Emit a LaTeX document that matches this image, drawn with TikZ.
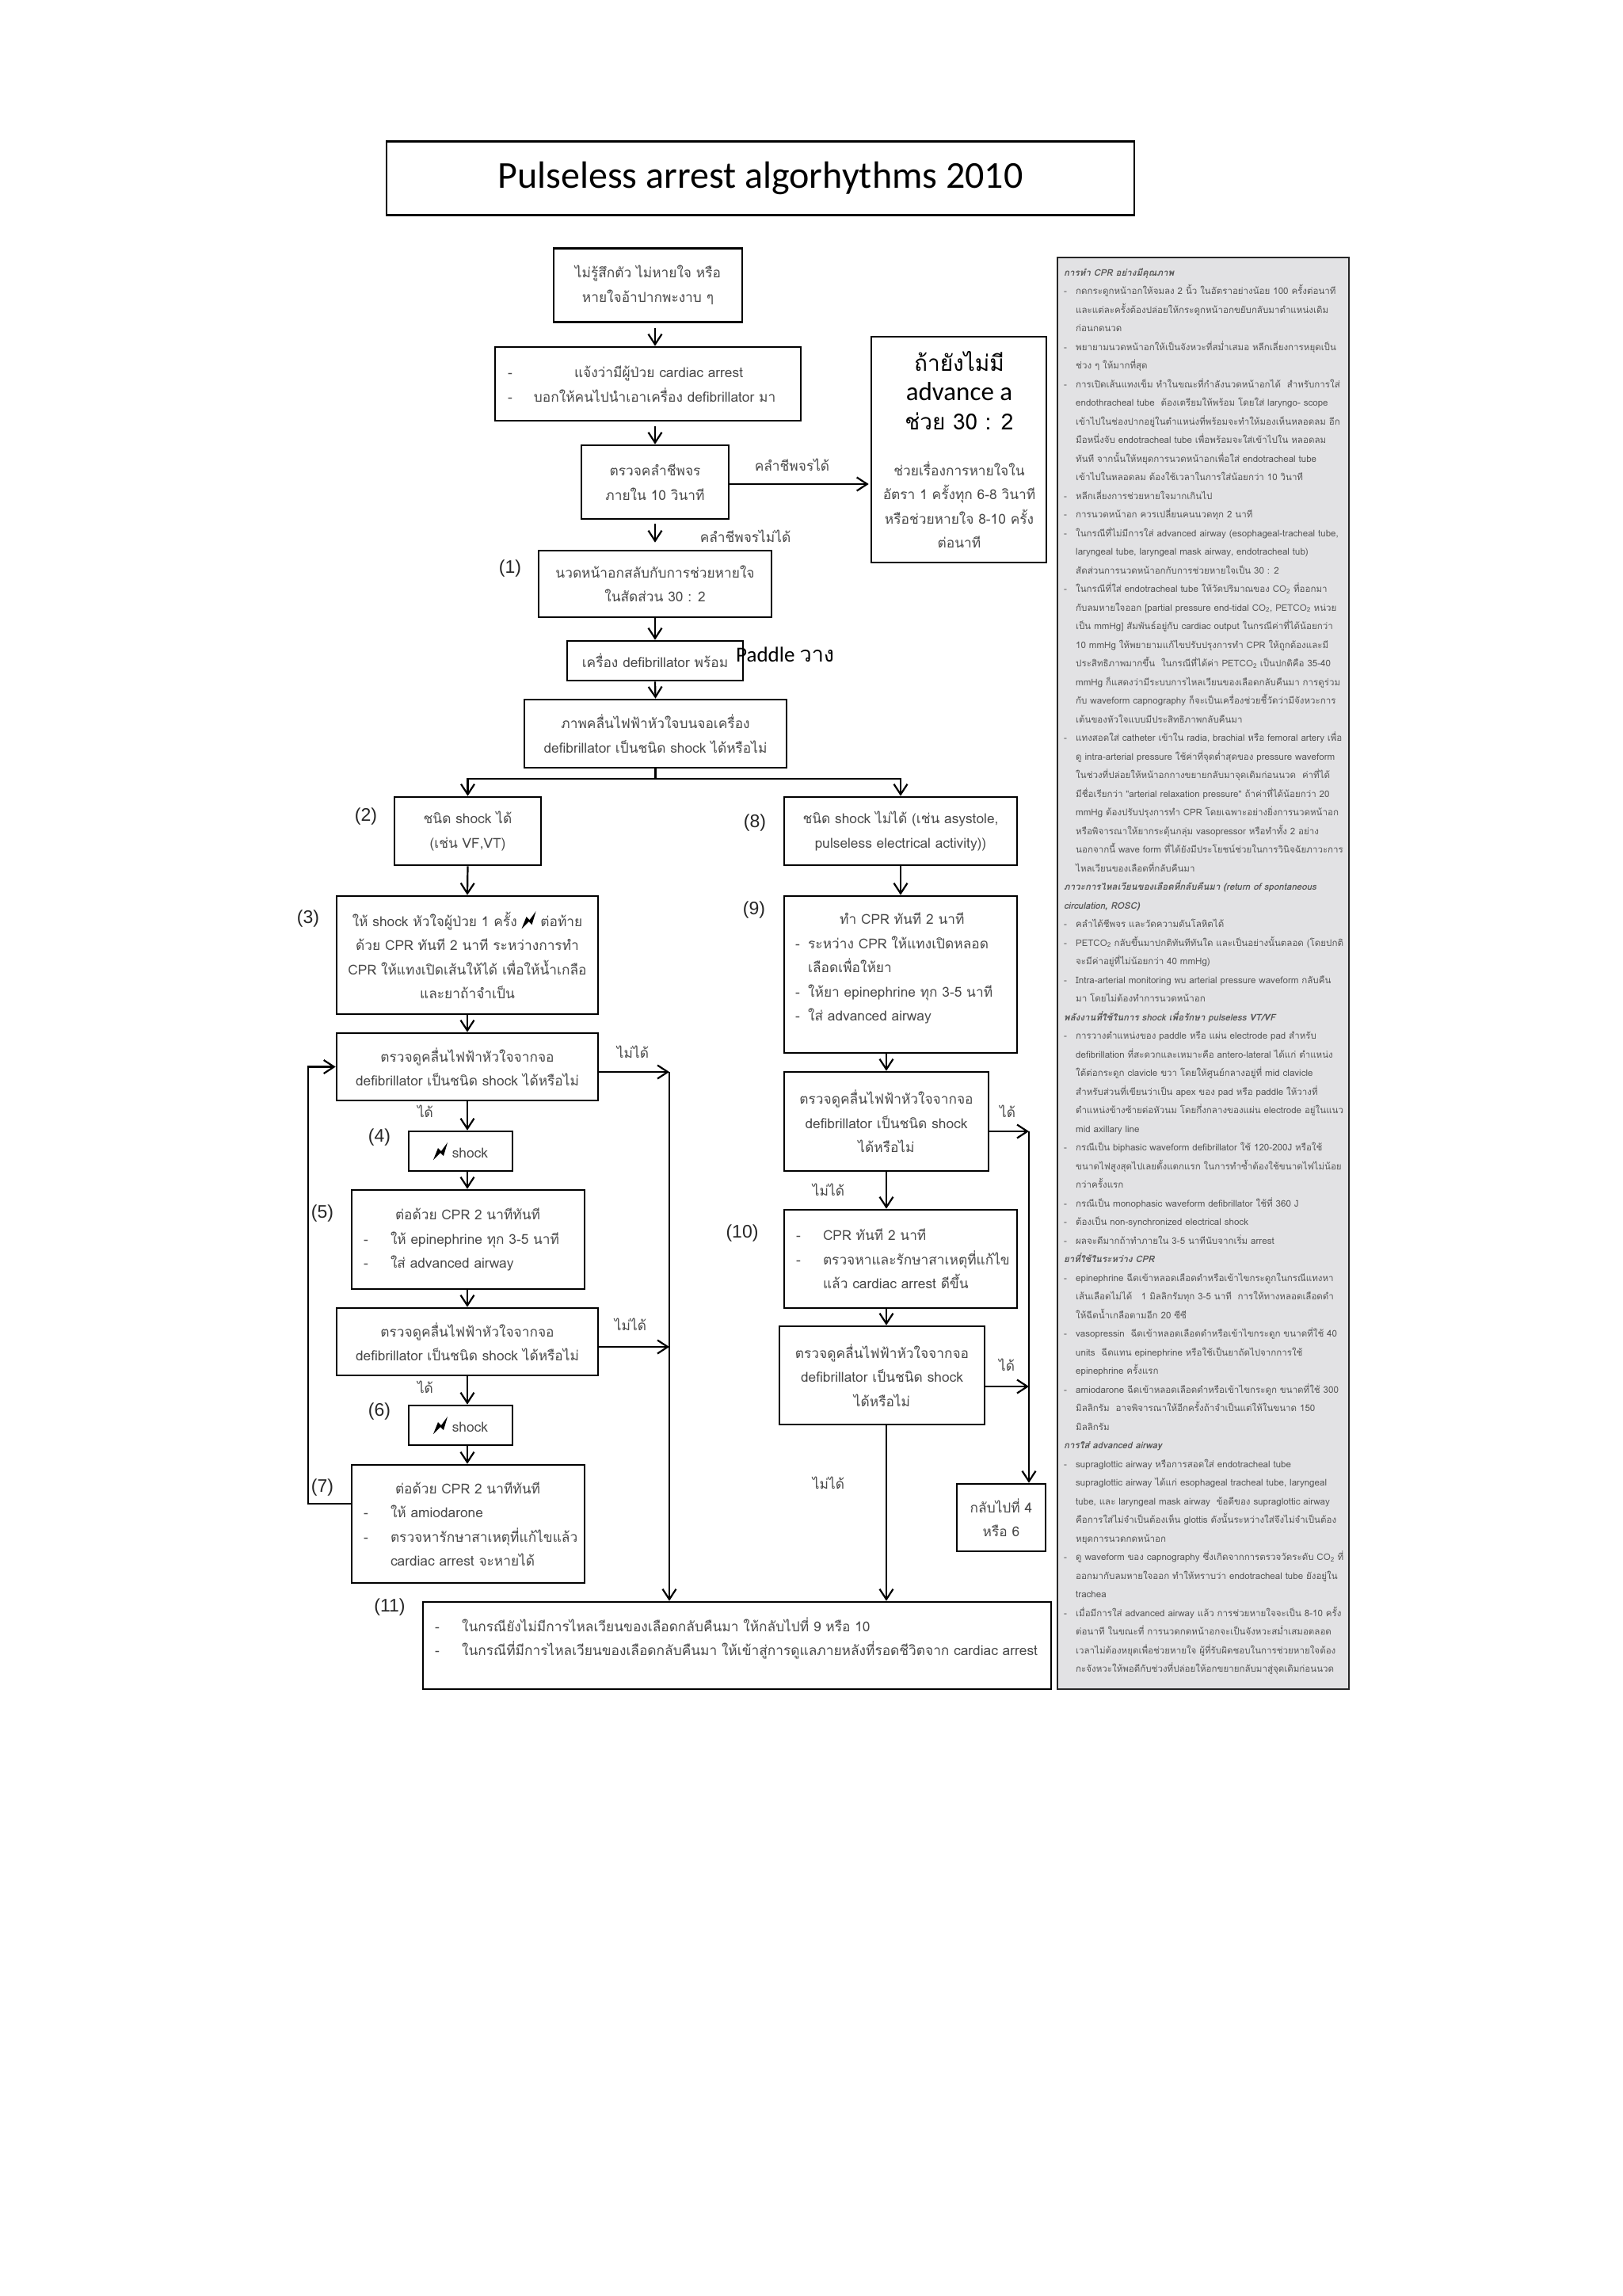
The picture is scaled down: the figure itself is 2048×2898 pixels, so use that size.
\documentclass[tikz,border=0pt]{standalone}
\usepackage{fontspec}
\usetikzlibrary{arrows.meta, calc, positioning}
\newfontfamily\thaifont[Script=Thai]{Loma}
\newfontfamily\numfont{Liberation Sans}
\newfontfamily\titlefont{Carlito}
\definecolor{boxtext}{HTML}{484848}
\definecolor{paneltext}{HTML}{555555}
\definecolor{panelfill}{HTML}{E2E2E4}
\newcommand{\dashline}[2]{\makebox[#1pt][l]{-}#2}
\newcommand{\pd}{\makebox[15pt][l]{-}}
\newcommand{\pc}{\hspace*{15pt}}
\newcommand{\sub}[1]{\textsubscript{#1}}
\newcommand{\bolt}{\tikz[baseline=3pt,x=1pt,y=1pt]\fill[black] (0,0) -- (6,15) -- (10,11) -- (18,22) -- (13,5) -- (9,9) -- cycle;}
\tikzset{
  box/.style 2 args={draw=black, line width=2.6pt, minimum width=#1, minimum height=#2, inner sep=0pt,
    align=center, text=boxtext, font=\thaifont\fontsize{17.3}{30.5}\selectfont},
  dashbox/.style n args={3}{box={#1}{#2}, align=left, inner xsep=#3, text width={#1pt-2*#3pt}},
  txt/.style={align=center, text=boxtext, inner sep=0pt, font=\thaifont\fontsize{17.3}{30.5}\selectfont},
  lefttxt/.style={txt, align=left},
  bigtxt/.style={inner sep=0pt, text=black, align=center, font=\thaifont\fontsize{28}{37}\selectfont},
  num/.style={inner sep=0pt, text=black!85, font=\numfont\fontsize{23}{26}\selectfont},
  flow/.style={line width=2.2pt, -{Straight Barb[length=13pt,width=17pt]}},
  flowline/.style={line width=2.2pt}
}
\begin{document}
\begin{tikzpicture}[x=1pt,y=-1pt]
  \useasboundingbox (0,0) rectangle (2048,2898);

  \node[box={944}{93}, text=black, font=\titlefont\fontsize{48}{52}\selectfont] (title) at (960,225) {Pulseless arrest algorhythms 2010};

  % left and middle column
  \node[box={238}{93}] (boxa) at (818,360) {ไม่รู้สึกตัว ไม่หายใจ หรือ\\หายใจอ้าปากพะงาบ ๆ};
  \node[dashbox={386}{93}{16}] (boxb) at (818,484.5) {\dashline{84}{แจ้งว่ามีผู้ป่วย cardiac arrest}\\\dashline{33}{บอกให้คนไปนำเอาเครื่อง defibrillator มา}};
  \node[box={186}{93}] (boxc) at (827,608.5) {ตรวจคลำชีพจร\\ภายใน 10 วินาที};
  \node[box={221}{285}] (boxd) at (1210.5,567.5) {};
  \node[bigtxt] (dtop) at (1211,493) {ถ้ายังไม่มี\\{\titlefont\fontsize{33}{37}\selectfont advance a}\\ช่วย 30 : 2};
  \node[txt] (dlow) at (1211,637) {ช่วยเรื่องการหายใจใน\\อัตรา 1 ครั้งทุก 6-8 วินาที\\หรือช่วยหายใจ 8-10 ครั้ง\\ต่อนาที};
  \node[box={294}{84}] (boxe) at (827,737) {นวดหน้าอกสลับกับการช่วยหายใจ\\ในสัดส่วน 30 : 2};
  \node[box={222}{50}] (boxf) at (827,834) {เครื่อง defibrillator พร้อม};
  \node[inner sep=0pt, text=black, font=\titlefont\fontsize{27}{30}\selectfont, anchor=west] (paddle) at (929,826) {Paddle {\thaifont วาง}};
  \node[box={331}{86}] (boxg) at (827.5,926) {ภาพคลื่นไฟฟ้าหัวใจบนจอเครื่อง\\defibrillator เป็นชนิด shock ได้หรือไม่};

  \node[box={185}{86}] (boxh) at (590.5,1049) {ชนิด shock ได้\\(เช่น VF,VT)};
  \node[box={294}{86}] (boxi) at (1137,1049) {ชนิด shock ไม่ได้ (เช่น asystole,\\pulseless electrical activity))};
  \node[box={330}{149}] (boxj) at (590,1205.5) {ให้ shock หัวใจผู้ป่วย 1 ครั้ง \bolt{} ต่อท้าย\\ด้วย CPR ทันที 2 นาที ระหว่างการทำ\\CPR ให้แทงเปิดเส้นให้ได้ เพื่อให้น้ำเกลือ\\และยาถ้าจำเป็น};
  \node[box={294}{198}] (boxk) at (1137,1230) {};
  \node[lefttxt, anchor=west, text width=266pt] (ktext) at (1004,1222) {\hspace*{56pt}ทำ CPR ทันที 2 นาที\\\dashline{16}{ระหว่าง CPR ให้แทงเปิดหลอด}\\\hspace*{16pt}เลือดเพื่อให้ยา\\\dashline{16}{ให้ยา epinephrine ทุก 3-5 นาที}\\\dashline{16}{ใส่ advanced airway}};

  \node[box={330}{85}] (boxl) at (590,1346.5) {ตรวจดูคลื่นไฟฟ้าหัวใจจากจอ\\defibrillator เป็นชนิด shock ได้หรือไม่};
  \node[box={131}{50}] (boxm) at (581.5,1453) {\bolt{} shock};
  \node[dashbox={294}{125}{15}] (boxn) at (591,1564.5) {\hspace*{40pt}ต่อด้วย CPR 2 นาทีทันที\\\dashline{34}{ให้ epinephrine ทุก 3-5 นาที}\\\dashline{34}{ใส่ advanced airway}};
  \node[box={330}{85}] (boxo) at (590,1693.5) {ตรวจดูคลื่นไฟฟ้าหัวใจจากจอ\\defibrillator เป็นชนิด shock ได้หรือไม่};
  \node[box={131}{50}] (boxs) at (581.5,1799) {\bolt{} shock};
  \node[dashbox={294}{149}{15}] (boxt) at (591,1923.5) {\hspace*{40pt}ต่อด้วย CPR 2 นาทีทันที\\\dashline{34}{ให้ amiodarone}\\\dashline{34}{ตรวจหารักษาสาเหตุที่แก้ไขแล้ว}\\\hspace*{34pt}cardiac arrest จะหายได้};

  \node[box={258}{125}] (boxp) at (1119,1415.5) {ตรวจดูคลื่นไฟฟ้าหัวใจจากจอ\\defibrillator เป็นชนิด shock\\ได้หรือไม่};
  \node[dashbox={294}{124}{15}] (boxq) at (1137,1589) {\dashline{34}{CPR ทันที 2 นาที}\\\dashline{34}{ตรวจหาและรักษาสาเหตุที่แก้ไข}\\\hspace*{34pt}แล้ว cardiac arrest ดีขึ้น};
  \node[box={259}{124}] (boxr) at (1113.5,1736) {ตรวจดูคลื่นไฟฟ้าหัวใจจากจอ\\defibrillator เป็นชนิด shock\\ได้หรือไม่};
  \node[box={112}{85}] (boxv) at (1264,1915.5) {กลับไปที่ 4\\หรือ 6};

  \node[box={793}{110}] (boxu) at (930.5,2077) {};
  \node[lefttxt, anchor=west, text width=775pt] (utext) at (549,2068) {\dashline{34}{ในกรณียังไม่มีการไหลเวียนของเลือดกลับคืนมา ให้กลับไปที่ 9 หรือ 10}\\\dashline{34}{ในกรณีที่มีการไหลเวียนของเลือดกลับคืนมา ให้เข้าสู่การดูแลภายหลังที่รอดชีวิตจาก cardiac arrest}};

  % step numbers
  \foreach \n/\x/\y/\t in {n1/644/718/1, n2/462/1031/2, n3/389/1160/3, n4/479/1436/4, n5/407/1532/5, n6/479/1782/6, n7/407/1878/7, n8/953/1039/8, n9/952/1149/9, n10/937/1557/10, n11/492/2029/11}
    \node[num] (\n) at (\x,\y) {(\t)};

  % labels on the connectors
  \node[txt] (lpulse) at (1000,587) {คลำชีพจรได้};
  \node[txt] (lnopulse) at (941,677) {คลำชีพจรไม่ได้};
  \foreach \n/\x/\y/\t in {la/799/1328/ไม่ได้, lb/537/1403/ได้, lc/796/1672/ไม่ได้, ld/537/1751/ได้, le/1272/1403/ได้, lf/1046/1502/ไม่ได้, lg/1271/1723/ได้, lh/1046/1872/ไม่ได้}
    \node[txt] (\n) at (\x,\y) {\t};

  % connectors of the main column
  \draw[flow, shorten <=6pt] (boxa.south -| boxc) -- (boxb.north -| boxc);
  \draw[flow, shorten <=6pt] (boxb.south -| boxc) -- (boxc.north);
  \draw[flow, shorten <=5pt, shorten >=9pt] (boxc.south) -- (boxe.north);
  \draw[flow, shorten >=2pt] ([yshift=-2.5pt]boxc.east) -- ([yshift=-2.5pt]boxc.east -| boxd.west);
  \draw[flow] (boxe.south) -- (boxf.north);
  \draw[flow] (boxf.south) -- (boxg.north);

  \coordinate (split) at (827.5,983);
  \draw[flowline] (boxg.south) -- (split);
  \draw[flow] (split) -| (boxh.north);
  \draw[flow] (split) -| (boxi.north);

  \draw[flow] (boxh.south) -- (boxj.north);
  \draw[flow] (boxi.south) -- (boxk.north);
  \draw[flow] (boxj.south) -- (boxl.north);
  \draw[flow] (boxl.south) -- (boxm.north -| boxl);
  \draw[flow] (boxm.south -| boxl) -- (boxn.north -| boxl);
  \draw[flow] (boxn.south -| boxl) -- (boxo.north);
  \draw[flow] (boxo.south) -- (boxs.north -| boxo);
  \draw[flow] (boxs.south -| boxo) -- (boxt.north -| boxo);

  \coordinate (loopout) at (444,1898);
  \coordinate (loopleft) at (389,1898);
  \draw[flow] (loopout) -- (loopleft) |- (boxl.west);

  % collector into box 11
  \coordinate (busleft) at (845,1353);
  \draw[flow] ([yshift=-6.5pt]boxl.east) -- (busleft);
  \draw[flow] ([yshift=-6.5pt]boxo.east) -- ([yshift=-6.5pt]boxo.east -| busleft);
  \draw[flow] (busleft) -- (busleft |- boxu.north);

  \draw[flow] (boxk.south -| boxp) -- (boxp.north);
  \draw[flow] (boxp.south) -- (boxq.north -| boxp);
  \draw[flow] (boxq.south -| boxp) -- (boxr.north -| boxp);
  \draw[flow] (boxr.south -| boxp) -- (boxu.north -| boxp);

  \coordinate (busright) at (1299,1428);
  \draw[flow] ([yshift=-12.5pt]boxp.east) -- (busright);
  \draw[flow] ([yshift=-14pt]boxr.east) -- ([yshift=-14pt]boxr.east -| busright);
  \draw[flow] (busright) -- (busright |- boxv.north);

  % side panel
  \node[draw=black!85, line width=2.6pt, fill=panelfill, minimum width=368, minimum height=1807, inner sep=0pt] (sidepanel) at (1519,1228.5) {};
  \node[anchor=north west, inner sep=0pt, align=left, text=paneltext, font=\thaifont\fontsize{11.55}{23.5}\selectfont] (sidetext) at (1343,338) {%
{\bfseries\itshape การทำ CPR อย่างมีคุณภาพ}\\
\pd กดกระดูกหน้าอกให้จมลง 2 นิ้ว ในอัตราอย่างน้อย 100 ครั้งต่อนาที\\
\pc และแต่ละครั้งต้องปล่อยให้กระดูกหน้าอกขยับกลับมาตำแหน่งเดิม\\
\pc ก่อนกดนวด\\
\pd พยายามนวดหน้าอกให้เป็นจังหวะที่สม่ำเสมอ หลีกเลี่ยงการหยุดเป็น\\
\pc ช่วง ๆ ให้มากที่สุด\\
\pd การเปิดเส้นแทงเข็ม ทำในขณะที่กำลังนวดหน้าอกได้ \ สำหรับการใส่\\
\pc endothracheal tube \ ต้องเตรียมให้พร้อม โดยใส่ laryngo- scope\\
\pc เข้าไปในช่องปากอยู่ในตำแหน่งที่พร้อมจะทำให้มองเห็นหลอดลม อีก\\
\pc มือหนึ่งจับ endotracheal tube เพื่อพร้อมจะใส่เข้าไปใน หลอดลม\\
\pc ทันที จากนั้นให้หยุดการนวดหน้าอกเพื่อใส่ endotracheal tube\\
\pc เข้าไปในหลอดลม ต้องใช้เวลาในการใส่น้อยกว่า 10 วินาที\\
\pd หลีกเลี่ยงการช่วยหายใจมากเกินไป\\
\pd การนวดหน้าอก ควรเปลี่ยนคนนวดทุก 2 นาที\\
\pd ในกรณีที่ไม่มีการใส่ advanced airway (esophageal-tracheal tube,\\
\pc laryngeal tube, laryngeal mask airway, endotracheal tub)\\
\pc สัดส่วนการนวดหน้าอกกับการช่วยหายใจเป็น 30 : 2\\
\pd ในกรณีที่ใส่ endotracheal tube ให้วัดปริมาณของ CO\sub{2} ที่ออกมา\\
\pc กับลมหายใจออก [partial pressure end-tidal CO\sub{2}, PETCO\sub{2} หน่วย\\
\pc เป็น mmHg] สัมพันธ์อยู่กับ cardiac output ในกรณีค่าที่ได้น้อยกว่า\\
\pc 10 mmHg ให้พยายามแก้ไขปรับปรุงการทำ CPR ให้ถูกต้องและมี\\
\pc ประสิทธิภาพมากขึ้น \ ในกรณีที่ได้ค่า PETCO\sub{2} เป็นปกติคือ 35-40\\
\pc mmHg ก็แสดงว่ามีระบบการไหลเวียนของเลือดกลับคืนมา การดูร่วม\\
\pc กับ waveform capnography ก็จะเป็นเครื่องช่วยชี้วัดว่ามีจังหวะการ\\
\pc เต้นของหัวใจแบบมีประสิทธิภาพกลับคืนมา\\
\pd แทงสอดใส่ catheter เข้าใน radia, brachial หรือ femoral artery เพื่อ\\
\pc ดู intra-arterial pressure ใช้ค่าที่จุดต่ำสุดของ pressure waveform\\
\pc ในช่วงที่ปล่อยให้หน้าอกกางขยายกลับมาจุดเดิมก่อนนวด \ ค่าที่ได้\\
\pc มีชื่อเรียกว่า "arterial relaxation pressure" ถ้าค่าที่ได้น้อยกว่า 20\\
\pc mmHg ต้องปรับปรุงการทำ CPR โดยเฉพาะอย่างยิ่งการนวดหน้าอก\\
\pc หรือพิจารณาให้ยากระตุ้นกลุ่ม vasopressor หรือทำทั้ง 2 อย่าง\\
\pc นอกจากนี้ wave form ที่ได้ยังมีประโยชน์ช่วยในการวินิจฉัยภาวะการ\\
\pc ไหลเวียนของเลือดที่กลับคืนมา\\
{\bfseries\itshape ภาวะการไหลเวียนของเลือดที่กลับคืนมา (return of spontaneous}\\
{\bfseries\itshape circulation, ROSC)}\\
\pd คลำได้ชีพจร และวัดความดันโลหิตได้\\
\pd PETCO\sub{2} กลับขึ้นมาปกติทันทีทันใด และเป็นอย่างนั้นตลอด (โดยปกติ\\
\pc จะมีค่าอยู่ที่ไม่น้อยกว่า 40 mmHg)\\
\pd Intra-arterial monitoring พบ arterial pressure waveform กลับคืน\\
\pc มา โดยไม่ต้องทำการนวดหน้าอก\\
{\bfseries\itshape พลังงานที่ใช้ในการ shock เพื่อรักษา pulseless VT/VF}\\
\pd การวางตำแหน่งของ paddle หรือ แผ่น electrode pad สำหรับ\\
\pc defibrillation ที่สะดวกและเหมาะคือ antero-lateral ได้แก่ ตำแหน่ง\\
\pc ใต้ต่อกระดูก clavicle ขวา โดยให้ศูนย์กลางอยู่ที่ mid clavicle\\
\pc สำหรับส่วนที่เขียนว่าเป็น apex ของ pad หรือ paddle ให้วางที่\\
\pc ตำแหน่งข้างซ้ายต่อหัวนม โดยกึ่งกลางของแผ่น electrode อยู่ในแนว\\
\pc mid axillary line\\
\pd กรณีเป็น biphasic waveform defibrillator ใช้ 120-200J หรือใช้\\
\pc ขนาดไฟสูงสุดไปเลยตั้งแตกแรก ในการทำซ้ำต้องใช้ขนาดไฟไม่น้อย\\
\pc กว่าครั้งแรก\\
\pd กรณีเป็น monophasic waveform defibrillator ใช้ที่ 360 J\\
\pd ต้องเป็น non-synchronized electrical shock\\
\pd ผลจะดีมากถ้าทำภายใน 3-5 นาทีนับจากเริ่ม arrest\\
{\bfseries\itshape ยาที่ใช้ในระหว่าง CPR}\\
\pd epinephrine ฉีดเข้าหลอดเลือดดำหรือเข้าไขกระดูกในกรณีแทงหา\\
\pc เส้นเลือดไม่ได้ \ \ 1 มิลลิกรัมทุก 3-5 นาที \ การให้ทางหลอดเลือดดำ\\
\pc ให้ฉีดน้ำเกลือตามอีก 20 ซีซี\\
\pd vasopressin \ ฉีดเข้าหลอดเลือดดำหรือเข้าไขกระดูก ขนาดที่ใช้ 40\\
\pc units \ ฉีดแทน epinephrine หรือใช้เป็นยาถัดไปจากการใช้\\
\pc epinephrine ครั้งแรก\\
\pd amiodarone ฉีดเข้าหลอดเลือดดำหรือเข้าไขกระดูก ขนาดที่ใช้ 300\\
\pc มิลลิกรัม \ อาจพิจารณาให้อีกครั้งถ้าจำเป็นแต่ให้ในขนาด 150\\
\pc มิลลิกรัม\\
{\bfseries\itshape การใส่ advanced airway}\\
\pd supraglottic airway หรือการสอดใส่ endotracheal tube\\
\pc supraglottic airway ได้แก่ esophageal tracheal tube, laryngeal\\
\pc tube, และ laryngeal mask airway \ ข้อดีของ supraglottic airway\\
\pc คือการใส่ไม่จำเป็นต้องเห็น glottis ดังนั้นระหว่างใส่จึงไม่จำเป็นต้อง\\
\pc หยุดการนวดกดหน้าอก\\
\pd ดู waveform ของ capnography ซึ่งเกิดจากการตรวจวัดระดับ CO\sub{2} ที่\\
\pc ออกมากับลมหายใจออก ทำให้ทราบว่า endotracheal tube ยังอยู่ใน\\
\pc trachea\\
\pd เมื่อมีการใส่ advanced airway แล้ว การช่วยหายใจจะเป็น 8-10 ครั้ง\\
\pc ต่อนาที ในขณะที่ การนวดกดหน้าอกจะเป็นจังหวะสม่ำเสมอตลอด\\
\pc เวลาไม่ต้องหยุดเพื่อช่วยหายใจ ผู้ที่รับผิดชอบในการช่วยหายใจต้อง\\
\pc กะจังหวะให้พอดีกับช่วงที่ปล่อยให้อกขยายกลับมาสู่จุดเดิมก่อนนวด};
\end{tikzpicture}
\end{document}
